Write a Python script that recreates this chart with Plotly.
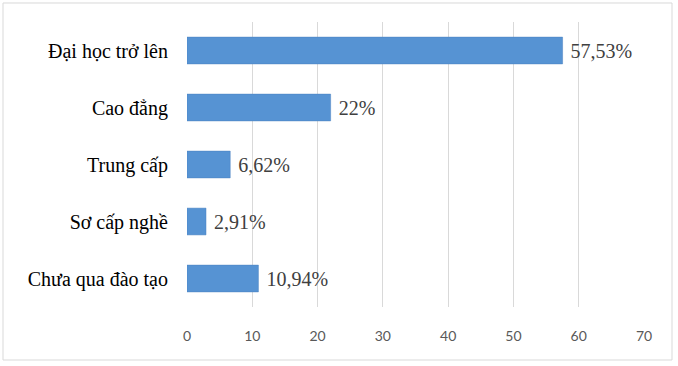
import plotly.graph_objects as go

categories = ["Đại học trở lên", "Cao đẳng", "Trung cấp", "Sơ cấp nghề", "Chưa qua đào tạo"]
values = [57.53, 22, 6.62, 2.91, 10.94]
x_ticks = [0, 10, 20, 30, 40, 50, 60, 70]

def fmt(v):
    s = ("%.2f" % v).rstrip("0").rstrip(".")
    return s.replace(".", ",") + "%"

labels = [" " + fmt(v) for v in values]

fig = go.Figure()
fig.add_trace(go.Bar(
    y=categories, x=values, orientation="h",
    marker=dict(color="#5693D3", line=dict(color="#4A82C0", width=0.5)),
    width=0.47,
    text=labels, textposition="outside", cliponaxis=False,
    textfont=dict(family="Liberation Serif, Times New Roman, serif", size=20, color="#404040"),
    hoverinfo="skip",
))

fig.update_layout(
    width=678, height=366,
    margin=dict(l=187, r=34, t=22, b=59),
    paper_bgcolor="white", plot_bgcolor="white",
    showlegend=False,
    xaxis=dict(range=[0, 70], tickvals=x_ticks, showgrid=True, gridcolor="#D9D9D9", gridwidth=1,
               zeroline=False, showline=False, ticks="outside", ticklen=16, tickcolor="rgba(0,0,0,0)",
               tickfont=dict(family="Lato", size=14, color="#595959")),
    yaxis=dict(autorange="reversed", showgrid=False, zeroline=False, showline=False,
               ticklabelstandoff=18,
               tickfont=dict(family="Liberation Serif, Times New Roman, serif", size=20, color="#000000")),
    shapes=[dict(type="rect", xref="paper", yref="paper",
                 x0=-0.4026, x1=1.0613, y0=-0.186, y1=1.0667,
                 line=dict(color="#D9D9D9", width=1), fillcolor="rgba(0,0,0,0)")],
    bargap=0.5,
)

fig.write_html("out.html", config={"displayModeBar": False},
               post_script="document.body.style.margin='0';document.body.style.padding='0';")
